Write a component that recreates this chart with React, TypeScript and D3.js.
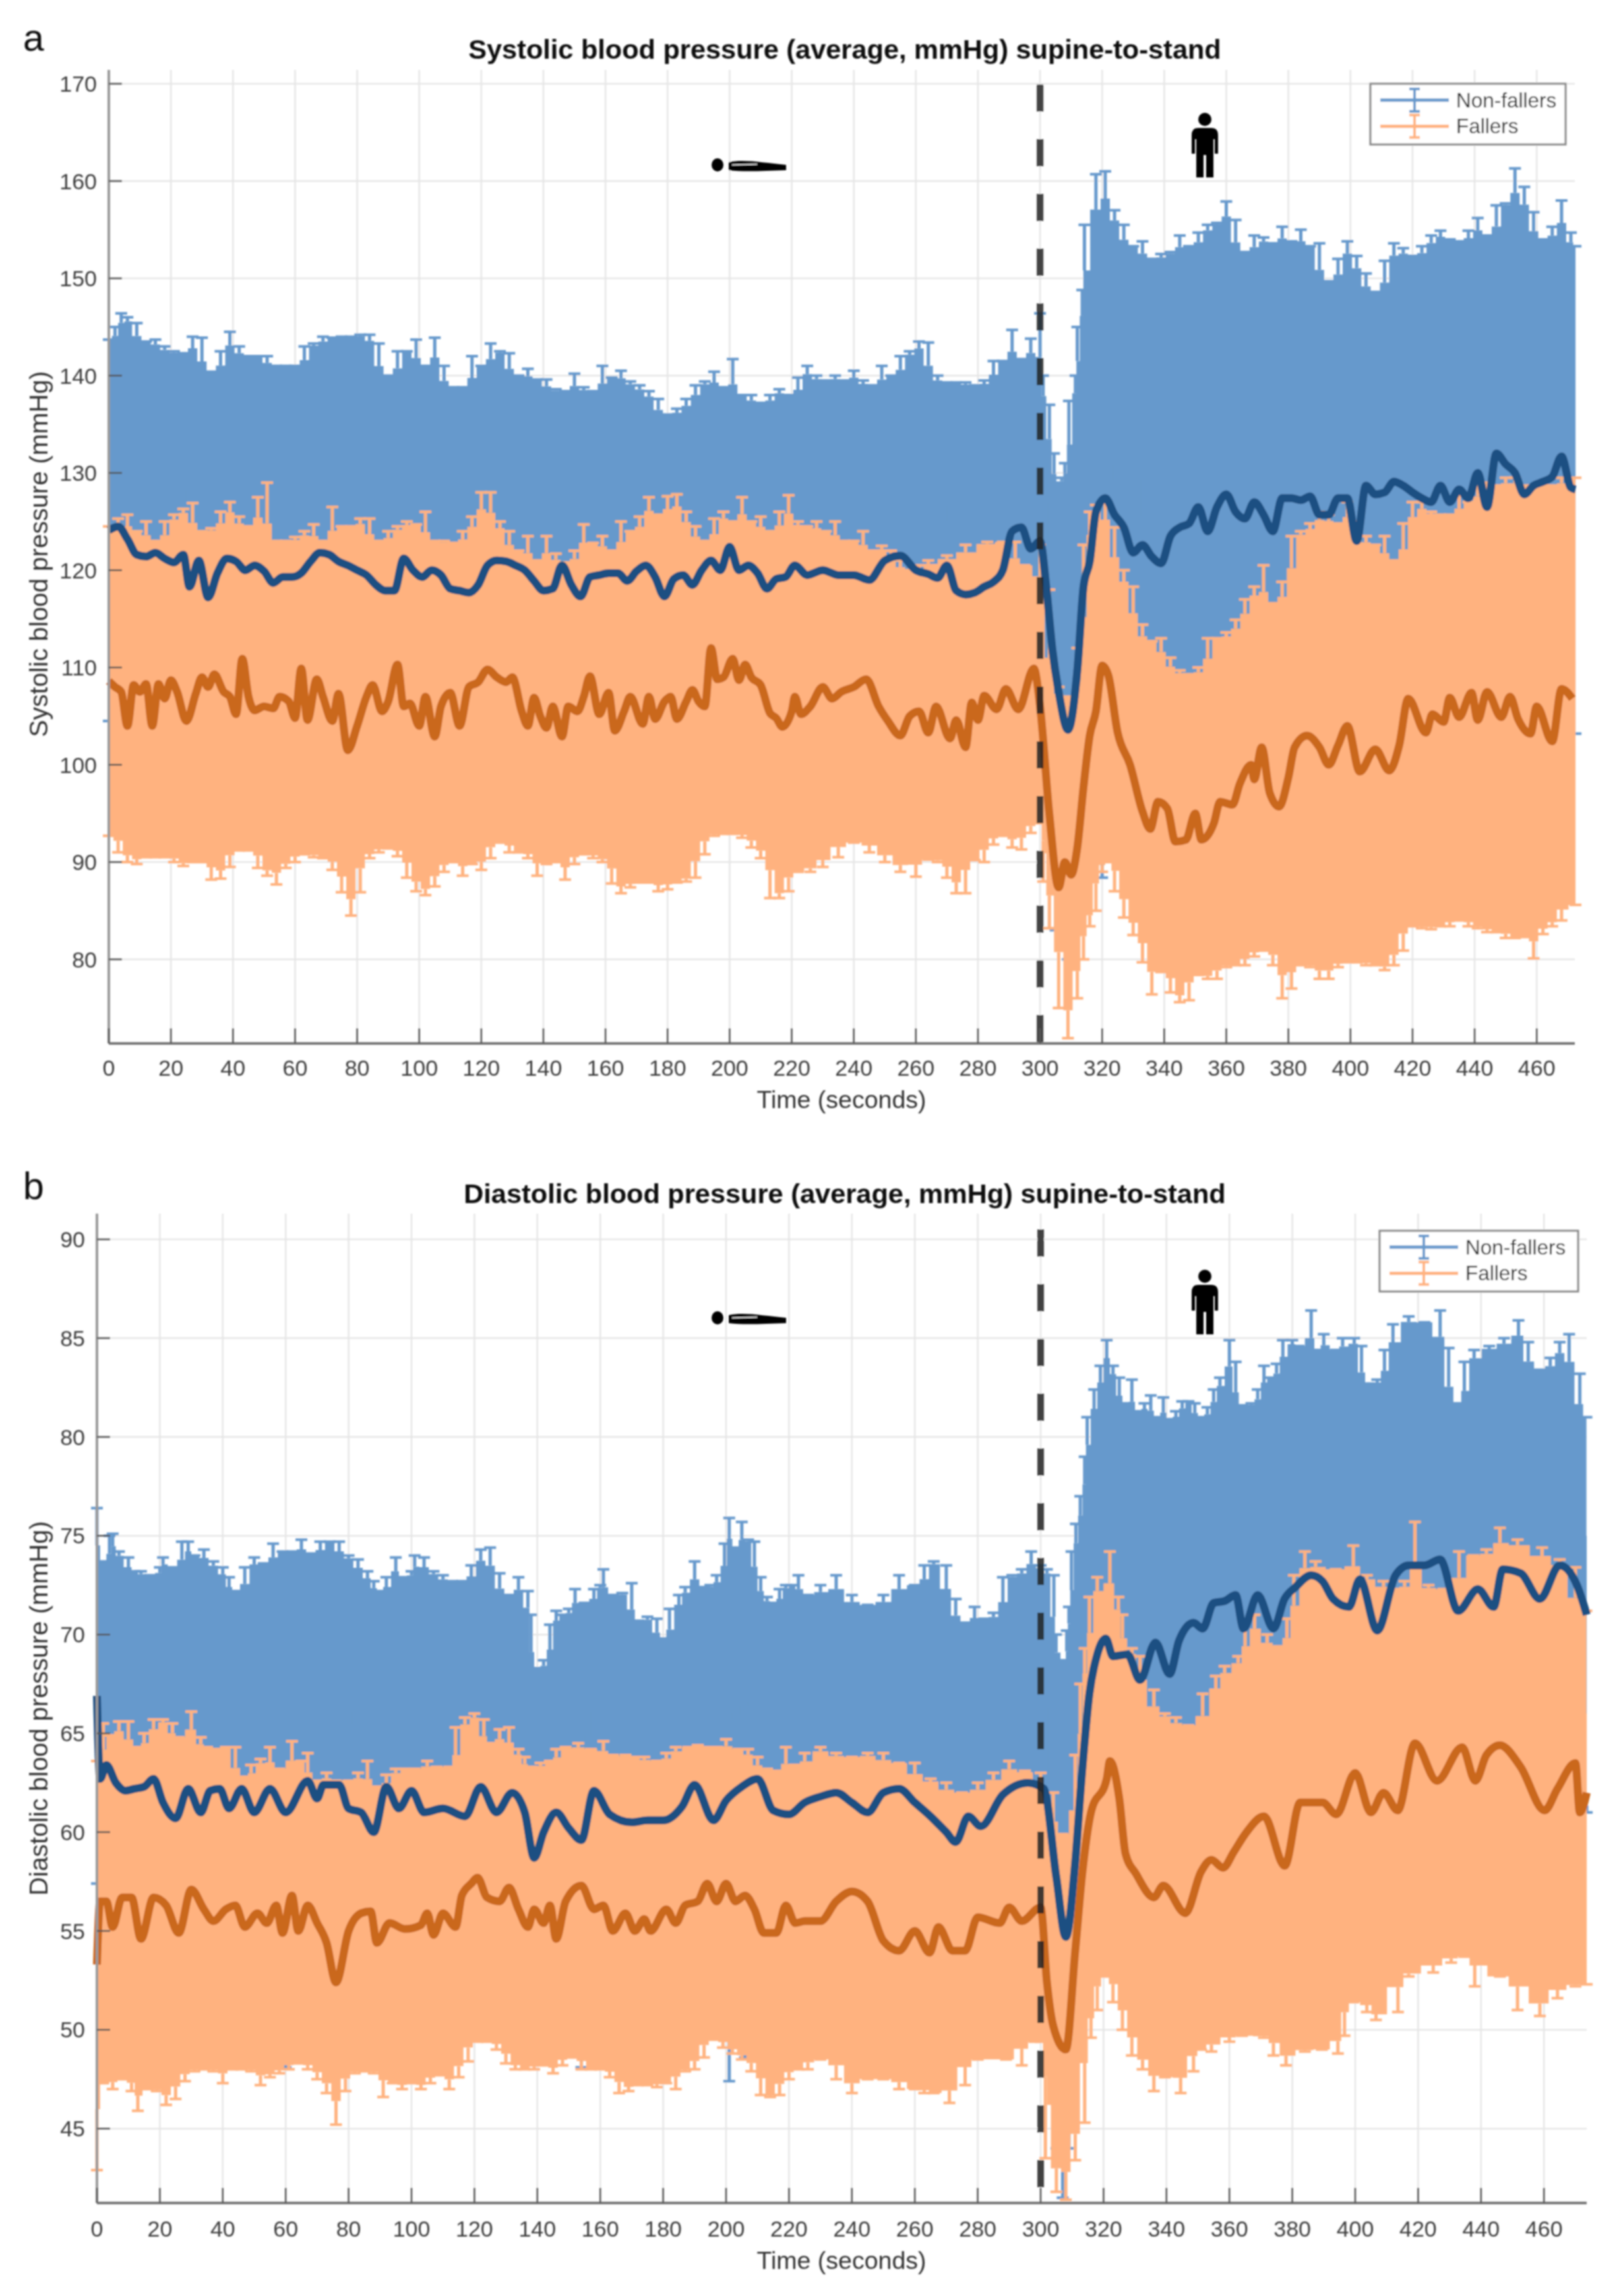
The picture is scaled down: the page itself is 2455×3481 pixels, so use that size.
import React from "react";
import * as d3 from "d3";

type Pt = [number, number];

const xTicks = d3.range(0, 461, 20);
const sysTicks = [80, 90, 100, 110, 120, 130, 140, 150, 160, 170];
const diaTicks = [45, 50, 55, 60, 65, 70, 75, 80, 85, 90];
const seriesNames = ["Non-fallers", "Fallers"];

const sysNFUpper: Pt[] = [[0,143.7],[2,145],[4,146.4],[6,146],[9,145.4],[12,143.5],[15,143.7],[18,143],[21,142.5],[24,142.3],[27,144],[30,143.9],[33,140.4],[36,142.5],[39,144.5],[42,143],[45,142],[48,142],[51,142],[54,141],[57,141],[60,141],[63,143],[66,143.3],[69,144],[72,143.9],[75,144],[78,144],[81,144.2],[84,144.2],[87,143.3],[90,140],[93,142.5],[96,142.5],[99,143.7],[102,141],[105,143.9],[108,141],[111,138.8],[114,138.8],[117,142],[120,141],[123,143.3],[126,142.5],[129,142.3],[132,140],[135,140.7],[138,139.6],[141,139.6],[144,138.6],[147,138.4],[150,140.2],[153,138.8],[156,138.4],[159,141],[162,139.8],[165,140.5],[168,139.4],[171,139],[174,138.4],[177,137.6],[180,136],[183,136.6],[186,137.6],[189,139],[192,139.4],[195,140.4],[198,138.8],[201,141.7],[204,138],[207,138],[210,137.2],[213,138],[216,138.6],[219,138],[222,139.8],[225,141],[228,140],[231,139.5],[234,140],[237,139.5],[240,140.5],[243,139.5],[246,139],[249,141],[252,140],[255,142],[258,142.5],[261,143.5],[264,143.4],[267,140],[270,139.3],[273,139.3],[276,139.3],[279,139],[282,139.5],[285,141.5],[288,141.5],[291,144.7],[294,141.7],[297,143.8],[300,146.4],[301,140],[303,137],[304.5,132],[306,129],[307,129.5],[308,131],[309.3,137.4],[311.4,140],[312,145],[313.6,148.8],[314.3,155.5],[318,160.7],[321,161],[324,157],[327,155.5],[330,153.3],[333,153.8],[336,152],[339,152.5],[342,152.7],[345,154.4],[348,153.3],[351,154.7],[354,155.5],[357,155.7],[360,157.9],[363,156],[366,152.7],[369,154.4],[372,154.2],[375,153.6],[378,155.3],[381,153.8],[384,155],[387,153.3],[390,153.6],[393,149.7],[396,152],[399,153.8],[402,152.3],[405,150.5],[408,148.6],[411,151.8],[414,153.6],[417,153.1],[420,152.3],[423,153.3],[426,154.4],[429,154.9],[432,154],[435,153.8],[438,154.9],[441,156.2],[444,154.4],[447,157.5],[450,157.7],[453,161.3],[456,159.4],[459,156.8],[462,154],[465,155.3],[468,158],[471,154.7],[472.5,153.3]];
const sysNFLower: Pt[] = [[0,104.5],[50,100],[100,98],[150,98],[200,101],[250,100],[290,102],[300,100],[305,83],[309,80],[315,85],[318,92],[320,88.4],[322,92],[325,93],[340,92],[350,95],[400,98],[440,100],[472.5,103.2]];
const sysNFMean: Pt[] = [[0,124.1],[3,124.5],[6,123.2],[9,121.6],[12,121.4],[15,121.8],[18,121.2],[21,120.8],[24,121.6],[26,118.3],[29,121],[32,117.2],[35,119.7],[38,121.2],[41,120.9],[44,120],[47,120.5],[50,119.9],[53,118.7],[56,119.3],[59,119.3],[62,119.7],[65,120.9],[68,121.8],[71,121.6],[74,120.9],[77,120.5],[80,120],[83,119.5],[86,118.5],[89,117.9],[92,117.9],[95,121.2],[98,120],[101,119.3],[104,120],[107,119.5],[110,118.1],[113,117.9],[116,117.7],[119,118.5],[122,120.5],[125,121],[128,120.9],[131,120.5],[134,120],[137,118.9],[140,117.9],[143,118.1],[146,120.5],[149,118.5],[152,117.3],[155,119.3],[158,119.5],[161,119.7],[164,119.7],[167,118.9],[170,119.9],[173,120.5],[176,119.3],[179,117.3],[182,119.1],[185,119.5],[188,118.5],[191,120],[194,121],[197,120],[200,122.4],[203,120],[206,120.5],[209,119.7],[212,118.1],[215,119.1],[218,119.3],[221,120.5],[225,119.5],[230,120],[235,119.5],[240,119.5],[245,119],[250,121],[255,121.5],[260,120],[264,119.6],[267,119.2],[270,120.5],[273,117.9],[276,117.5],[279,117.7],[282,118.3],[285,118.8],[288,120],[291,124],[294,124.4],[297,122.2],[300,123],[302,118.3],[304,111.8],[306,107.5],[309,103.6],[312,109.7],[314,118.3],[316,120.9],[318,126],[321,127.4],[324,125.7],[327,124.4],[330,121.8],[333,122.6],[336,121.4],[339,120.7],[342,123.5],[345,124.4],[348,124.8],[351,126.5],[354,124],[357,126.5],[360,127.8],[363,126],[366,125.3],[369,127],[372,125.7],[375,124],[378,127.4],[381,127.4],[384,127.2],[387,127.6],[390,125.7],[393,125.7],[396,127.4],[399,127.4],[402,123],[405,128.7],[408,127.8],[411,128],[414,129.1],[417,128.7],[420,128],[423,127.4],[426,127],[429,128.7],[432,127],[435,128.3],[438,127.4],[441,130],[444,126.5],[447,132],[450,130.9],[453,130],[456,127.8],[459,128.7],[462,129.1],[465,129.6],[468,131.7],[471,128.5],[472.5,128.3]];
const sysFUpper: Pt[] = [[0,124.5],[3,125.3],[6,125.7],[9,124],[12,125],[15,123],[18,125],[21,125.7],[24,126.3],[27,126.9],[30,124],[33,124.3],[36,126],[39,127],[42,125.5],[45,124.5],[48,127.5],[51,129],[54,123],[57,123],[60,123.4],[63,124],[66,124.7],[69,123],[72,126.5],[75,124.5],[78,124.5],[81,125.3],[84,125.3],[87,123],[90,124],[93,124.5],[96,125],[99,124.7],[102,126],[105,123],[108,123],[111,122.8],[114,124],[117,125.5],[120,128],[123,128],[126,125],[129,124],[132,122],[135,123.5],[138,121],[141,123.5],[144,121.7],[147,120.8],[150,122],[153,124.7],[156,122.8],[159,123.5],[162,122],[165,125],[168,124],[171,125.5],[174,127.5],[177,125.7],[180,127.6],[183,127.8],[186,126],[189,124.5],[192,123],[195,125.3],[198,126],[201,125],[204,127.5],[207,125],[210,125.5],[213,124],[216,126],[219,127.7],[222,125],[225,124.5],[228,125],[231,124],[234,125],[237,123],[240,123],[243,124],[246,122],[249,122.5],[252,122],[255,121],[258,120],[261,120.5],[264,121],[270,121.5],[276,122.6],[283,122.9],[288,122.9],[292,122.9],[295,120.5],[300,122.6],[303,118],[306,108],[309,107],[312,112],[314,122.6],[316,126],[318,126.7],[321,127],[324,124.4],[327,120],[330,118.3],[333,114.4],[336,112.7],[339,113],[342,111],[345,109.7],[348,109.3],[351,110],[354,113],[357,113],[360,113.6],[363,114.9],[366,117],[369,118.3],[372,120.5],[375,116.6],[378,118.8],[381,123.5],[384,124],[387,124.8],[390,126],[393,125.7],[396,124.8],[399,127],[402,125],[405,123.5],[408,122.6],[411,123.5],[414,121],[417,124.8],[420,127],[423,127],[426,126],[429,125.7],[432,125.7],[435,127.8],[438,127],[441,129],[444,129],[447,128.7],[450,129.5],[453,129.5],[456,128.7],[459,128.7],[462,128.7],[465,128.7],[468,129.5],[472.5,129.5]];
const sysFLower: Pt[] = [[0,92.7],[3,91],[6,90],[9,89.8],[12,90.5],[15,90.5],[18,90.5],[21,90],[24,89.6],[27,90],[30,90],[33,88.2],[36,88.3],[39,89.5],[42,91.2],[45,91.2],[48,89.4],[51,88.6],[54,87.7],[57,89.4],[60,90],[63,90.8],[66,90.5],[69,90.4],[72,89.2],[75,86.9],[78,84.5],[81,86.9],[84,90.4],[87,91],[90,91.4],[93,90.6],[96,88.4],[99,87],[102,86.6],[105,87.5],[108,89],[111,90],[114,88.6],[117,89.8],[120,89.2],[123,90.4],[126,92],[129,91],[132,91],[135,90.4],[138,88.6],[141,89.8],[144,90],[147,88.2],[150,89.8],[153,90.8],[156,90.4],[159,90],[162,87.8],[165,86.8],[168,87.4],[171,87.9],[174,87.9],[177,87],[180,87.2],[183,87.9],[186,88],[189,88.4],[192,90.8],[195,92.7],[198,92.9],[201,92.9],[204,92.5],[207,91.5],[210,90.4],[213,86.3],[216,86.3],[219,87],[222,89],[226,89],[230,89.5],[235,90.5],[240,92],[245,91],[250,90],[255,89],[260,88.5],[264,90.25],[267,90],[270,88.4],[273,86.8],[276,86.8],[279,90.2],[282,90],[285,91.8],[288,92.7],[291,91.5],[294,91.3],[297,93],[300,94],[301,88],[303,83.2],[306,75],[309,71.9],[312,76],[314,80],[316,83.4],[318,85],[320,89],[322,90],[324,87],[327,84.3],[330,82.5],[333,79.7],[336,76.4],[339,78.7],[342,76.6],[345,75.6],[348,75.8],[351,78.4],[354,78],[357,78],[360,79.2],[363,79.4],[366,79.4],[369,80.3],[372,80.9],[375,79.4],[378,76],[381,77],[384,79.4],[387,79.2],[390,78],[393,78],[396,79.2],[399,79.7],[402,79.7],[405,79.4],[408,79.4],[411,78.9],[414,79.4],[417,80.9],[420,83.4],[423,83.2],[426,83.1],[429,83.4],[432,83.4],[435,84],[438,83.4],[441,83.2],[444,82.8],[447,82.8],[450,82.2],[453,82.2],[456,82.3],[459,80.1],[462,82.6],[465,83.4],[468,84],[472.5,85.6]];
const sysFMean: Pt[] = [[0,108.6],[2,108],[4,107.5],[6,104],[8,108.2],[10,107.5],[12,108.3],[14,104],[16,108.3],[18,106.8],[20,108.7],[22,107.5],[25,104.5],[28,107.3],[30,109],[32,108],[34,109.3],[37,107.5],[39,107],[41,105.2],[43,110.9],[45,107],[47,105.6],[50,106],[53,105.8],[55,107],[58,106.5],[60,104.8],[62,109.9],[64,104.6],[67,108.8],[69,107],[72,104.5],[74,107.3],[77,101.5],[80,104],[83,107],[85,108.2],[88,105.5],[90,106.5],[93,110.3],[95,106],[97,106.3],[100,104],[102,107],[105,102.9],[107,106],[110,107.4],[113,104],[116,108],[119,108.5],[122,109.8],[125,109],[128,108.5],[130,109],[133,105.5],[135,104],[137,106.9],[139,105],[141,103.8],[143,106],[146,102.9],[148,106],[151,105.5],[153,107],[155,109.1],[158,105.2],[161,107.4],[163,103.5],[166,105.5],[168,107],[172,104.2],[174,107],[176,104.7],[179,106.5],[181,107],[183,104.7],[186,106.5],[188,107.7],[190,106.5],[192,106],[194,112],[196,108.8],[198,109],[201,110.9],[203,108.7],[205,110.3],[207,109],[210,108.2],[213,105.3],[215,104.8],[217,103.9],[220,105.5],[221,107],[223,105.2],[226,106],[230,108],[233,106.8],[236,107.5],[240,108],[244,108.8],[248,106],[251,104.5],[255,103],[258,105],[261,105.5],[264,103.3],[266.5,106],[271,102.7],[273,104.6],[276,101.8],[278,106.4],[280,104.6],[282,107.1],[286,105.7],[289,107.8],[293,105.7],[298,109.9],[300,106],[303,94.9],[306,87.4],[308,90],[310,88.7],[312,91.5],[314,97.7],[316,103],[318,105.5],[320,110.2],[322,109.2],[325,103.3],[329,100],[333,95.2],[335.5,93.4],[338,96.2],[341,95.5],[343.6,92.1],[347,92.3],[350,95],[352,92.3],[356,94],[358,96.2],[362,95.9],[364.3,98],[368,100],[369,98.5],[371.4,101.8],[374,97.1],[377,95.7],[380,98.7],[382,101.8],[386,103],[390,101.8],[393,100],[396,102],[399,104],[403,99.3],[408,101.6],[412.5,99.4],[415.7,102],[418.6,106.8],[424.3,103.3],[426.4,105.2],[430,104.4],[432,106.9],[435,104.9],[439,107.4],[441,104.6],[444,107.5],[448.6,104.9],[451.4,107],[454,104.7],[458,103.2],[460,106],[465,102.4],[468,107.8],[471.5,106.8]];

const diaNFUpper: Pt[] = [[0,76.4],[2,73.7],[4,75],[5,75.1],[7,74.2],[10,73.9],[12,73.2],[14,73.2],[17,73],[20,73.4],[21,73.9],[24,73.4],[27,74.7],[29,74.7],[31,74],[34,74.3],[37,73.7],[40,73.4],[42,72.9],[44,72.2],[47,73.4],[50,73.9],[53,73.6],[56,74.6],[59,74.2],[62,74.2],[65,74.8],[68,74.1],[71,74.7],[74,74.7],[77,74.7],[80,74],[83,73.8],[86,73.2],[88,72.7],[90,72.2],[92,72.9],[95,73.9],[97,72.9],[100,73.2],[101,74],[104,73.9],[107,73.2],[110,73],[113,72.7],[116,72.7],[119,73.5],[122,74.3],[125,74.4],[128,73.1],[131,72],[134,72.9],[137,72.2],[138,71],[140,68.3],[142,68.7],[144,70.5],[146,71.2],[148,71],[150,71.3],[152,72.3],[155,71.6],[158,72.3],[160,72.5],[161,73.3],[164,72],[167,72.1],[170,72.6],[172,70.7],[175,70.9],[178,70.8],[180,69.8],[182,71.3],[185,72],[187,72.4],[190,73.7],[193,72.4],[195,72.5],[197,73],[199.5,74.6],[201,75.9],[203,74.4],[205,75.7],[207,74.8],[209,74.7],[211,72.9],[213,71.9],[215,71.6],[217,72.3],[219,72.5],[221,72.5],[223,73],[226,72],[230,72.5],[235,73],[240,72],[245,71.5],[250,72],[255,73],[260,72.5],[263,73.5],[266,73.7],[270,73.5],[273,71.8],[276,70.6],[279,71.4],[282,70.8],[285,71.1],[288,72.9],[291,73],[294,73.3],[297,74.2],[300,73.5],[302,73.3],[304.2,73],[304.9,70],[307.7,68.7],[308.3,70.2],[309,71.4],[309.8,74.2],[311.2,75.6],[312.6,77],[314,79],[314.8,81],[317,82.4],[319,83.6],[321,84.9],[323,83.6],[325,83],[327,81.7],[329,82.9],[331,81.3],[333,81.7],[335,82.1],[337,81],[339,82],[341,80.9],[343,81.3],[345,81.8],[347,81.8],[349,81.7],[351,81],[353,81.5],[355,82.4],[357,83],[360,84.9],[362,83.8],[364,81.6],[367,81.7],[369,82.4],[371,83.6],[373,83],[375,83.7],[377,84.9],[380,84.9],[382,84.6],[386,86.4],[388,84.4],[390,85.2],[393.8,84.4],[396,85],[399.7,85],[402,84.6],[404.3,82.7],[407,82.9],[409.3,84.4],[412,85.7],[417,86.1],[422,85.8],[427,86.4],[429.7,84.5],[432.7,81.7],[434.7,83.8],[437.8,84.4],[442.6,84.6],[447.3,85],[451.9,85.9],[455,84.8],[458.7,83.4],[462,84],[465,84.8],[468,85.2],[471.4,83.2],[473.5,81]];
const diaNFLower: Pt[] = [[0,57.4],[2,52],[30,50.5],[58,50],[60,48.1],[62,49.5],[100,50],[150,50.5],[152,49.2],[154,48.1],[156,49.4],[158,50.5],[180,51],[199,50.5],[201,47.4],[203,50],[206,48.6],[208,51],[250,51],[300,50],[305,44],[307,41.5],[309,44],[312,50],[320,55],[400,60],[472,61.5],[473.6,61]];
const diaNFMean: Pt[] = [[0,66.9],[1,62.7],[3,63.4],[6,62.5],[9,62.1],[12,62.2],[15,62.3],[18,62.7],[21,61.5],[25,60.7],[29,62.2],[33,61],[36,62.1],[39,62.2],[42,61.2],[46,62.2],[50,61],[55,62.2],[60,61],[67,62.6],[70,61.7],[72,62.4],[77,62.4],[80,61.2],[84,61],[88,60],[92,62.3],[96,61.2],[100,62.1],[104,61],[110,61.2],[117,60.8],[122,62.3],[127,61],[132,62],[136,61],[139,58.7],[142,60],[146,61],[150,60.2],[154,59.6],[158,62.1],[163,60.9],[170,60.5],[175,60.6],[180,60.6],[186,61.3],[190,62.4],[196,60.6],[200,61.6],[205,62.3],[210,62.7],[215,61.1],[220,60.9],[225,61.5],[230,61.8],[235,62],[240,61.5],[245,61],[250,62],[255,62.2],[260,61.5],[265,60.8],[270,60],[273,59.5],[277,60.8],[281,60.3],[288,61.9],[296,62.5],[301,62.2],[305,57.7],[308,54.7],[311,58.5],[313,62.7],[315.5,67],[318,69],[320.7,69.8],[323,68.9],[327.6,69],[331.6,67.7],[336.5,69.6],[341,68],[344,69.7],[348.6,70.6],[351.5,70.3],[355,71.6],[358.5,71.7],[362,72],[364.5,70.3],[369,72],[374,70.3],[377.5,71.8],[381,72.4],[386,73],[389.6,72.7],[393,71.8],[398,71.4],[401.5,72.8],[407,70.2],[412.8,73],[417,73.5],[422,73.5],[427,73.8],[432.7,71.2],[439,72.3],[444,71.4],[446.9,73.3],[452.6,73.1],[458.7,71.8],[465,73.5],[470.5,72.5],[473.6,71]];
const diaFUpper: Pt[] = [[0,63.6],[2,65.5],[4,64.9],[7,65.6],[10,65.6],[13,64.3],[15,65],[18,65.7],[21,65.7],[24,65.5],[26,64.8],[30,66.1],[33,64.8],[35,64.3],[38,64.2],[41,64.3],[44,64.3],[47,62.8],[49,63.4],[52,63.7],[55,64.3],[58,63.2],[62,64.6],[65,63.6],[67,64],[70,62.6],[73,63],[76,62.6],[80,62.6],[83,63],[86,63.6],[89,62.3],[92,62.9],[95,63.2],[98,63.2],[101,63.2],[105,63.6],[108,63.3],[112,63.3],[114,65.3],[117,65.8],[120,66],[123,65.7],[125,64.5],[128,65.2],[131,65.3],[134,64.2],[136,63.8],[138,63.3],[141,63.5],[144,63.6],[146,64.2],[149,64.3],[153,64.5],[157,64.2],[161,64.6],[164,63.9],[168,63.9],[171,63.8],[174,63.8],[178,63.6],[181,64],[184,64.3],[188,64.3],[191,64.4],[194,64.3],[197,64.3],[200,64.7],[204,64.2],[207,64.2],[210,63.8],[213,63.2],[216,63.1],[219,64.3],[222,63.4],[225,64],[230,64.3],[235,64],[240,63.8],[245,64],[250,64],[255,63.5],[260,63.5],[265,62.7],[270,62.5],[275,62],[280,62.5],[285,63],[290,63.6],[295,63.1],[300,63],[304,62],[307,59.9],[311,63.9],[312.6,67.5],[314,69.3],[315.5,71.9],[318,72.9],[322,74.2],[324.7,71.9],[326,71],[329,69.3],[331.6,68.9],[336,67.2],[339.5,66],[343,65.8],[347,65.4],[351.5,67],[355.7,67.9],[358.5,68.4],[362.8,68.9],[365,70.6],[368,71],[372,70],[375.5,69.4],[378.3,70.8],[380.5,73],[384,74.2],[387.4,73.7],[393.8,73.3],[399.4,74.5],[403.7,73],[409,72.7],[412.3,72.3],[415.7,72.7],[419,75.7],[423.3,72.5],[428,72.3],[433,74.2],[437.6,74],[441.7,74.3],[446,75.4],[451.6,74.8],[459.4,74.4],[465,73.8],[470,73.4],[473.5,71.2]];
const diaFLower: Pt[] = [[0,42.9],[2,47.3],[5,47],[8,47.5],[11,46.9],[13,45.9],[16,47],[19,46.9],[22,46.2],[25,46.5],[28,47.4],[31,47.9],[34,48],[37,47.9],[40,47.3],[43,48],[46,48],[49,47.9],[52,47.2],[55,47.6],[58,47.8],[61,48],[64,48.3],[67,48],[70,47.5],[73,46.8],[76,45.2],[79,46.9],[82,47.8],[85,47.9],[88,47.8],[91,46.6],[94,47.3],[97,47],[100,47.3],[103,47],[106,47.3],[109,47.7],[112,47],[115,47.6],[118,48.4],[121,49.4],[124,49.4],[127,49],[130,48.3],[133,48],[136,48],[139,48],[142,48.2],[145,47.8],[148,48.2],[151,48.6],[154,48],[157,48],[160,48],[163,47.6],[166,46.8],[169,46.9],[172,47.2],[175,47.2],[178,47.1],[181,47.3],[184,47],[187,47.9],[190,48],[193,48.6],[196,49.5],[199,49.1],[202,48.8],[205,48.5],[208,47.9],[211,46.7],[214,46.6],[217,46.7],[220,47.5],[223,48],[226,48],[230,48.5],[235,47.5],[240,46.8],[245,47.5],[250,47.5],[255,47],[260,47],[263,46.8],[266,46.8],[271,46.3],[276,47.2],[280,48.5],[289,48.5],[294,48.2],[298,49.4],[300,49.4],[301.5,43.5],[305,41.8],[308,41.4],[311,43.4],[314,45.3],[316,49.6],[318,51],[320.4,52.7],[323,51.4],[326,50],[329,48.7],[332.4,48],[336,46.9],[339.5,47.6],[344.5,46.8],[348.6,47.9],[351,49],[354.3,48.9],[360,49.4],[364,49.7],[371,49.6],[374,48.7],[378,48.2],[384,48.9],[389.4,49],[394.5,48.8],[396.6,49.7],[399.4,51.4],[403.7,50.9],[406.6,50.5],[413.6,50.9],[417,52.7],[424.8,52.9],[430.5,53.4],[434.7,53.7],[438,52.2],[446,52.7],[451.6,51],[458.7,50.7],[464.3,51.6],[470,52.2],[473.6,52.3]];
const diaFMean: Pt[] = [[0,53.3],[1,56.5],[3,56.5],[5,55.2],[8,56.7],[11,56.7],[14,54.6],[18,56.7],[22,56.3],[26,54.9],[30,57.1],[34,56.1],[37,55.5],[41,56.1],[44,56.3],[47,55.2],[51,55.9],[54,55.4],[57,56.3],[59,54.9],[62,56.8],[64,55],[67,56.3],[70,55.4],[73,54.4],[76,52.4],[80,55],[84,55.9],[87,56],[89,54.4],[93,55.4],[98,55.1],[103,55.3],[105,55.9],[107,54.8],[110,55.9],[114,55.2],[116,56.8],[119,57.4],[121,57.7],[124,56.7],[128,56.5],[131,57.2],[134,56.1],[137,55.2],[139,56.1],[142,55.4],[144,56.3],[146,54.6],[149,56.5],[154,57.3],[158,56.1],[161,56.3],[164,55],[168,55.9],[171,55],[174,55.6],[176,55],[181,56.1],[184,55.4],[187,56.3],[191,56.5],[194,57.4],[197,56.5],[200,57.4],[203,56.5],[206,56.8],[209,56.1],[212,54.9],[216,54.9],[219,56.3],[222,55.4],[225,55.5],[230,55.5],[235,56.5],[240,57],[245,56.5],[250,54.5],[255,54],[260,55],[264.7,53.9],[267.5,55.2],[272,54],[276,54],[280,55.7],[287,55.4],[290,56.2],[294,55.5],[300,56.2],[302,52.4],[304,50.2],[308,49],[311,54],[313.3,58],[316,61],[321,62.7],[322,63.6],[325,61.7],[327,58.9],[330.3,57.9],[336,56.7],[339,57.3],[346,55.9],[351,58],[354.3,58.6],[358,58.2],[361.4,59],[365,59.9],[371,60.8],[377.6,58.3],[382.5,61.5],[389.6,61.5],[394,60.9],[400,63],[405,61],[409,62],[413.5,61.1],[419,64.5],[426,62.6],[434,64.3],[438.2,62.6],[441.7,63.9],[446,64.4],[452.6,63.3],[460.2,61.1],[464.3,62.2],[470,63.5],[471.4,61],[473.6,62]];

const BLUE = "#6699cc";
const ORANGE = "#ffb27f";
const DARK_BLUE = "#1b5082";
const DARK_ORANGE = "#ca671c";
const FONT = "'Liberation Sans', Arial, sans-serif";

interface PanelProps {
  letter: string; letterY: number; title: string; titleY: number; yLabel: string; yLabelY: number;
  x0: number; right: number; pxPerSec: number;
  top: number; bottom: number; yTickTop: number; yTickTopPx: number; pxPerUnit: number;
  ticks: number[]; xTickY: number; xLabelY: number;
  nfU: Pt[]; nfL: Pt[]; nfM: Pt[]; fU: Pt[]; fL: Pt[]; fM: Pt[];
  legend: { x: number; y: number; w: number; h: number };
  lying: { x: number; y: number }; standing: { x: number; y: number };
  dashStart: number;
}

// The solid body of a band stops short of isolated peaks, so each peak reads as a stem with a cap.
function bodyOf(data: Pt[], sign: number): Pt[] {
  return data.map((d, i) => {
    const prev = data[Math.max(0, i - 1)][1] * sign;
    const next = data[Math.min(data.length - 1, i + 1)][1] * sign;
    const v = d[1] * sign;
    const low = Math.min(prev, next);
    const b = low < v ? low + (v - low) * 0.3 : v;
    return [d[0], b * sign] as Pt;
  });
}

function Band({ upper, lower, mean, color, x, y, overlap }: any) {
  const meanAt = d3.scaleLinear().domain(mean.map((d: Pt) => d[0])).range(mean.map((d: Pt) => d[1])).clamp(true);
  const up = d3.area<Pt>().x((d) => x(d[0])).y1((d) => y(d[1])).y0((d) => y(meanAt(d[0]) - overlap)).curve(d3.curveStep);
  const lo = d3.area<Pt>().x((d) => x(d[0])).y1((d) => y(d[1])).y0((d) => y(meanAt(d[0]) + overlap)).curve(d3.curveStep);
  const bodyU = bodyOf(upper, 1);
  const bodyL = bodyOf(lower, -1);
  const bars = [
    ...upper.map((d: Pt, i: number) => [d[0], d[1], bodyU[i][1]]),
    ...lower.map((d: Pt, i: number) => [d[0], d[1], bodyL[i][1]]),
  ];
  return (
    <g>
      <path d={up(bodyU) || ""} fill={color} />
      <path d={lo(bodyL) || ""} fill={color} />
      {bars.map((d: number[], i: number) => (
        <g key={i}>
          <line x1={x(d[0])} x2={x(d[0])} y1={y(d[1])} y2={y(d[2])} stroke={color} strokeWidth={5} />
          <line x1={x(d[0]) - 9} x2={x(d[0]) + 9} y1={y(d[1])} y2={y(d[1])} stroke={color} strokeWidth={4} />
        </g>
      ))}
    </g>
  );
}

function Panel(p: PanelProps) {
  const x = d3.scaleLinear().domain([0, (p.right - p.x0) / p.pxPerSec]).range([p.x0, p.right]);
  const yTop = p.yTickTop + (p.yTickTopPx - p.top) / p.pxPerUnit;
  const yBot = p.yTickTop - (p.bottom - p.yTickTopPx) / p.pxPerUnit;
  const y = d3.scaleLinear().domain([yBot, yTop]).range([p.bottom, p.top]);
  const line = d3.line<Pt>().x((d) => x(d[0])).y((d) => y(d[1])).curve(d3.curveMonotoneX);
  const tickColor = "#555";
  const labelColor = "#3c3c3c";
  const lg = p.legend;
  const rowY = [lg.y + lg.h * 0.27, lg.y + lg.h * 0.7];
  const lx0 = lg.x + 15, lx1 = lg.x + 119, lc = (lx0 + lx1) / 2;
  return (
    <g fontFamily={FONT}>
      <text x={35} y={p.letterY} fontSize={57} fill="#111">{p.letter}</text>
      <text x={1281} y={p.titleY} fontSize={41.5} fontWeight="bold" textAnchor="middle" fill="#111">{p.title}</text>
      {xTicks.map((t) => <line key={t} x1={x(t)} x2={x(t)} y1={p.top} y2={p.bottom} stroke="#e6e6e6" strokeWidth={2.5} />)}
      {p.ticks.map((t) => <line key={t} x1={p.x0} x2={p.right} y1={y(t)} y2={y(t)} stroke="#e6e6e6" strokeWidth={2.5} />)}
      <Band upper={p.nfU} lower={p.nfL} mean={p.nfM} color={BLUE} x={x} y={y} overlap={4} />
      <Band upper={p.fU} lower={p.fL} mean={p.fM} color={ORANGE} x={x} y={y} overlap={4} />
      <path d={line(p.nfM) || ""} fill="none" stroke={DARK_BLUE} strokeWidth={12} strokeLinejoin="round" />
      <path d={line(p.fM) || ""} fill="none" stroke={DARK_ORANGE} strokeWidth={12} strokeLinejoin="round" />
      <line x1={x(300)} x2={x(300)} y1={p.dashStart} y2={p.bottom} stroke="#222" strokeOpacity={0.85} strokeWidth={10} strokeDasharray="41 42" />
      <line x1={p.x0} x2={p.x0} y1={p.top} y2={p.bottom} stroke="#9a9a9a" strokeWidth={4} />
      <line x1={p.x0} x2={p.right} y1={p.bottom} y2={p.bottom} stroke="#777" strokeWidth={4} />
      {xTicks.map((t) => (
        <g key={t}>
          <line x1={x(t)} x2={x(t)} y1={p.bottom} y2={p.bottom - 23} stroke={tickColor} strokeWidth={2.5} />
          <text x={x(t)} y={p.xTickY} fontSize={34} textAnchor="middle" fill={labelColor}>{t}</text>
        </g>
      ))}
      {p.ticks.map((t) => (
        <g key={t}>
          <line x1={p.x0} x2={p.x0 + 20} y1={y(t)} y2={y(t)} stroke={tickColor} strokeWidth={2.5} />
          <text x={p.x0 - 18} y={y(t) + 12} fontSize={34} textAnchor="end" fill={labelColor}>{t}</text>
        </g>
      ))}
      <text x={1276} y={p.xLabelY} fontSize={37.5} textAnchor="middle" fill="#333">Time (seconds)</text>
      <text transform={`translate(72,${p.yLabelY}) rotate(-90)`} fontSize={39} textAnchor="middle" fill="#333">{p.yLabel}</text>

      <rect x={lg.x} y={lg.y} width={lg.w} height={lg.h} fill="#fff" stroke="#888" strokeWidth={3} />
      {seriesNames.map((name, i) => {
        const c = i === 0 ? BLUE : ORANGE;
        return (
          <g key={name}>
            <line x1={lx0} x2={lx1} y1={rowY[i]} y2={rowY[i]} stroke={c} strokeWidth={5} />
            <line x1={lc} x2={lc} y1={rowY[i] - 17} y2={rowY[i] + 17} stroke={c} strokeWidth={4} />
            <line x1={lc - 8} x2={lc + 8} y1={rowY[i] - 17} y2={rowY[i] - 17} stroke={c} strokeWidth={4} />
            <line x1={lc - 8} x2={lc + 8} y1={rowY[i] + 17} y2={rowY[i] + 17} stroke={c} strokeWidth={4} />
            <text x={lg.x + 130} y={rowY[i] + 11} fontSize={31.5} fill="#222">{name}</text>
          </g>
        );
      })}

      <g transform={`translate(${p.lying.x},${p.lying.y})`} fill="#000">
        <ellipse cx={0} cy={0} rx={9} ry={10} />
        <path d="M17,-4 C40,-9 70,-3 104,0 L104,8 C70,9 40,11 17,8 Z" />
        <path d="M22,0 L60,-1" stroke="#fff" strokeWidth={1.5} fill="none" />
      </g>
      <g transform={`translate(${p.standing.x},${p.standing.y})`} fill="#000">
        <circle cx={0} cy={0} r={10} />
        <path d="M-20,24 Q-20,13 -10,13 L10,13 Q20,13 20,24 L20,52 L15,52 L15,30 L13,30 L13,88 L2,88 L2,54 L-2,54 L-2,88 L-13,88 L-13,30 L-15,30 L-15,52 L-20,52 Z" />
      </g>
    </g>
  );
}

export default function App() {
  return (
    <svg width={2455} height={3481} viewBox="0 0 2455 3481" style={{ position: "absolute", left: 0, top: 0, display: "block", background: "#fff" }}>
      <defs>
        <filter id="soft" filterUnits="userSpaceOnUse" x={0} y={0} width={2455} height={3481}>
          <feGaussianBlur stdDeviation={1.1} />
        </filter>
      </defs>
      <g filter="url(#soft)">
        <Panel letter="a" letterY={77} title="Systolic blood pressure (average, mmHg) supine-to-stand" titleY={89}
          yLabel="Systolic blood pressure (mmHg)" yLabelY={840}
          x0={165} right={2388} pxPerSec={4.707} top={106} bottom={1582}
          yTickTop={170} yTickTopPx={127} pxPerUnit={14.75} ticks={sysTicks} xTickY={1631} xLabelY={1680}
          nfU={sysNFUpper} nfL={sysNFLower} nfM={sysNFMean} fU={sysFUpper} fL={sysFLower} fM={sysFMean}
          legend={{ x: 2078, y: 127, w: 296, h: 92 }} lying={{ x: 1088, y: 250 }} standing={{ x: 1827, y: 181 }} dashStart={128} />
        <Panel letter="b" letterY={1818} title="Diastolic blood pressure (average, mmHg) supine-to-stand" titleY={1824}
          yLabel="Diastolic blood pressure (mmHg)" yLabelY={2590}
          x0={147} right={2406} pxPerSec={4.77} top={1840} bottom={3340}
          yTickTop={90} yTickTopPx={1879} pxPerUnit={29.96} ticks={diaTicks} xTickY={3391} xLabelY={3440}
          nfU={diaNFUpper} nfL={diaNFLower} nfM={diaNFMean} fU={diaFUpper} fL={diaFLower} fM={diaFMean}
          legend={{ x: 2092, y: 1866, w: 301, h: 92 }} lying={{ x: 1088, y: 1998 }} standing={{ x: 1827, y: 1935 }} dashStart={1864} />
      </g>
    </svg>
  );
}
